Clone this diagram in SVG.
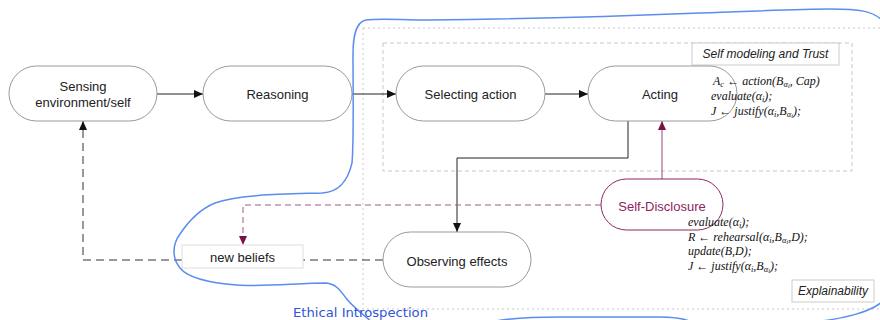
<svg xmlns="http://www.w3.org/2000/svg" width="880" height="320" viewBox="0 0 880 320">
<defs>
<style>
.node{fill:#fff;stroke:#999;stroke-width:1}
.lbl{font-family:"Liberation Sans",Arial,sans-serif;font-size:13px;fill:#222;text-anchor:middle}
.ital{font-family:"Liberation Sans",Arial,sans-serif;font-size:12px;font-style:italic;fill:#222;text-anchor:middle}
.math{font-family:"Liberation Serif","Times New Roman",serif;font-size:12px;font-style:italic;fill:#111}
.sub{font-size:8.5px}
.sub2{font-size:6.5px}
.conn{fill:none;stroke:#222;stroke-width:1}
.dash{fill:none;stroke:#333;stroke-width:1;stroke-dasharray:8 5}
.mdash{fill:none;stroke:#a05a85;stroke-width:1;stroke-dasharray:6 4}
.mline{fill:none;stroke:#a0447a;stroke-width:1}
.blue{fill:none;stroke:#5b8def;stroke-width:1.5;stroke-linecap:round}
</style>
<marker id="ah" markerUnits="userSpaceOnUse" markerWidth="10" markerHeight="8" refX="9" refY="4" orient="auto">
<path d="M0,0 L9,4 L0,8 z" fill="#111"/>
</marker>
<marker id="mh" markerUnits="userSpaceOnUse" markerWidth="10" markerHeight="8" refX="9" refY="4" orient="auto">
<path d="M0,0 L9,4 L0,8 z" fill="#7a1048"/>
</marker>
</defs>
<rect width="880" height="320" fill="#fff"/>

<g id="explainability-region">
<rect x="363" y="28" width="530" height="281" fill="none" stroke="#c8c8c8" stroke-dasharray="2 3"/>
<rect x="792" y="280" width="82" height="22" fill="#fff" stroke="#ccc"/>
<text class="ital" x="833" y="295">Explainability</text>
</g>
<g id="trust-region">
<rect x="383" y="43" width="469" height="128" fill="none" stroke="#c8c8c8" stroke-dasharray="4 3"/>
<rect x="692" y="43" width="147" height="22" fill="#fff" stroke="#ccc"/>
<text class="ital" x="765.5" y="58">Self modeling and Trust</text>
</g>

<g id="connectors">
<path class="conn" d="M157,94 H203" marker-end="url(#ah)"/>
<path class="conn" d="M352,94 H396" marker-end="url(#ah)"/>
<path class="conn" d="M545,94 H588" marker-end="url(#ah)"/>
<path class="conn" d="M628,121 V158 H457 V232" marker-end="url(#ah)"/>
<path class="mline" d="M662,179 V121" marker-end="url(#mh)"/>
<path class="mdash" d="M601,205 H243 V245" marker-end="url(#mh)"/>
<path class="dash" d="M383,260 H303"/>
<path class="dash" d="M182,260 H83 V121" marker-end="url(#ah)"/>
</g>

<g id="sensing">
<rect class="node" x="9" y="66" width="148" height="55" rx="27.5"/>
<text class="lbl" x="83" y="91">Sensing</text>
<text class="lbl" x="83" y="107">environment/self</text>
</g>
<g id="reasoning">
<rect class="node" x="203" y="66" width="149" height="55" rx="27.5"/>
<text class="lbl" x="277.5" y="99">Reasoning</text>
</g>
<g id="selecting">
<rect class="node" x="396" y="66" width="149" height="55" rx="27.5"/>
<text class="lbl" x="470.5" y="99">Selecting action</text>
</g>
<g id="acting">
<rect class="node" x="588" y="66" width="149" height="55" rx="27.5"/>
<text class="lbl" x="660" y="99">Acting</text>
</g>
<g id="observing">
<rect class="node" x="383" y="232" width="148" height="55" rx="27.5"/>
<text class="lbl" x="457" y="266">Observing effects</text>
</g>
<g id="new-beliefs">
<rect x="182" y="245" width="121" height="23" fill="#fff" stroke="#ddd"/>
<text class="lbl" x="242.5" y="262">new beliefs</text>
</g>
<g id="self-disclosure">
<rect x="601" y="179" width="122" height="51" rx="25.5" fill="#fff" stroke="#8e2460" stroke-width="1"/>
<text class="lbl" x="662" y="211" style="fill:#8e2460">Self-Disclosure</text>
</g>

<g id="formulas-trust">
<text class="math" x="713" y="85">A<tspan class="sub" dy="2">c</tspan><tspan dy="-2"> ← action(B</tspan><tspan class="sub" dy="2">α</tspan><tspan class="sub2" dy="1">i</tspan><tspan dy="-3">, Cap)</tspan></text>
<text class="math" x="711" y="100">evaluate(α<tspan class="sub" dy="2">i</tspan><tspan dy="-2">);</tspan></text>
<text class="math" x="711" y="115">J ← justify(α<tspan class="sub" dy="2">i</tspan><tspan dy="-2">,B</tspan><tspan class="sub" dy="2">α</tspan><tspan class="sub2" dy="1">i</tspan><tspan dy="-3">);</tspan></text>
</g>
<g id="formulas-disclosure">
<text class="math" x="688" y="226">evaluate(α<tspan class="sub" dy="2">i</tspan><tspan dy="-2">);</tspan></text>
<text class="math" x="688" y="241">R ← rehearsal(α<tspan class="sub" dy="2">i</tspan><tspan dy="-2">,B</tspan><tspan class="sub" dy="2">α</tspan><tspan class="sub2" dy="1">i</tspan><tspan dy="-3">,D);</tspan></text>
<text class="math" x="688" y="255">update(B,D);</text>
<text class="math" x="688" y="270">J ← justify(α<tspan class="sub" dy="2">i</tspan><tspan dy="-2">,B</tspan><tspan class="sub" dy="2">α</tspan><tspan class="sub2" dy="1">i</tspan><tspan dy="-3">);</tspan></text>
</g>

<g id="ethical-introspection">
<path class="blue" d="M372,322 C362,314 352,306 346,298 C340,290 336,284 326,283 C300,283 260,287 237,285 C210,283 188,278 180,268 C172,258 172,245 180,234 C188,222 198,210 215,203 C240,194 290,194 322,193 C340,192 348,180 352,163 C354,140 353,90 353,55 C353,35 356,22 366,20 C380,18 400,20 430,20 C520,19 600,17 700,13 C760,11 800,9 830,9 C860,9 872,11 882,20"/>
<path class="blue" d="M490,322 C510,318 530,317 560,317 L660,317 C675,317 685,319 692,322"/>
<path class="blue" d="M815,322 C845,318 868,313 882,302"/>
<text x="293" y="317" textLength="135" lengthAdjust="spacingAndGlyphs" style="font-family:'DejaVu Sans',sans-serif;font-size:13px;fill:#2f54d8">Ethical Introspection</text>
</g>
</svg>
